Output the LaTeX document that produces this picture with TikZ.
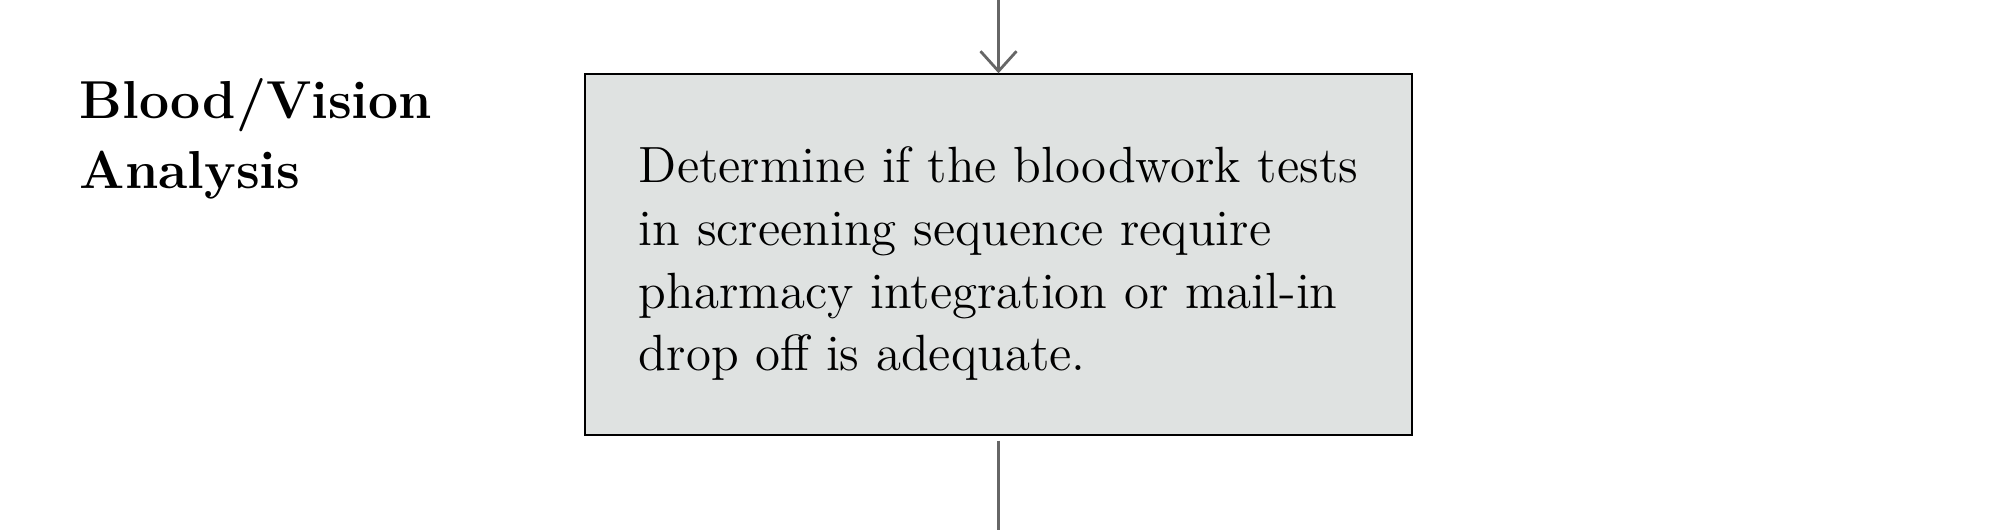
\documentclass[tikz,border=0pt]{standalone}
\usetikzlibrary{arrows.meta}
\definecolor{boxgray}{HTML}{DFE2E1}
\definecolor{linegray}{HTML}{666666}
\begin{document}
\begin{tikzpicture}
\useasboundingbox (0,0) rectangle (20,5.3);

\node[font=\fontsize{15.2}{19.7}\selectfont\bfseries, align=left, anchor=base west, inner sep=0pt] (title) at (0.79, 3.42) {Blood/Vision\\Analysis};

\node[draw=black, fill=boxgray, minimum width=8.27cm, minimum height=3.61cm, align=left, font=\fontsize{14.5}{17.9}\selectfont] (task) at (9.985, 2.755) {\rule{0pt}{0.54cm}Determine if the bloodwork tests\\in screening sequence require\\pharmacy integration or mail-in\\drop off is adequate.};

\coordinate (in) at (9.985, 5.3);
\coordinate (out) at (9.985, 0);
\draw [linegray, thick, -{Straight Barb[length=2mm, width=3.6mm]}] (in) -- (task.north);
\draw [linegray, thick] ([yshift=-0.05cm]task.south) -- (out);
\end{tikzpicture}
\end{document}
